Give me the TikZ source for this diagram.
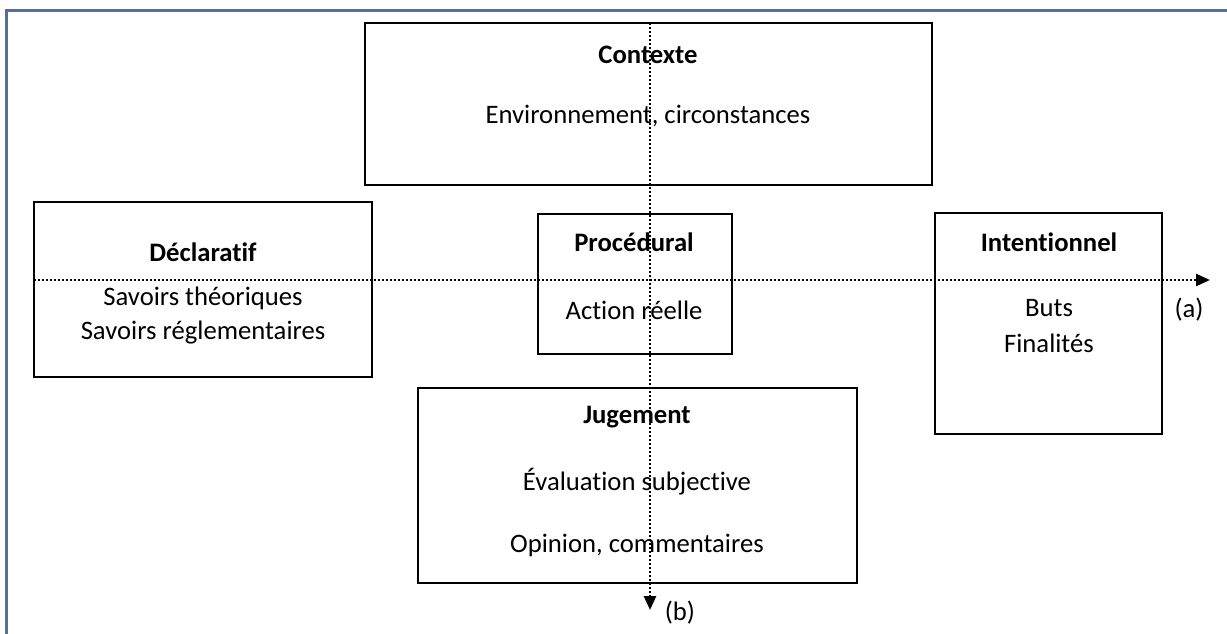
\documentclass[tikz,border=0pt]{standalone}
\usepackage{fontspec}
\setmainfont{Carlito}[Ligatures={NoCommon}]
\usetikzlibrary{arrows.meta}
\begin{document}
\begin{tikzpicture}[x=0.75pt,y=-0.75pt,
  box/.style={draw=black,line width=1.4pt,fill=white,rectangle,inner sep=0pt},
  lbl/.style={font=\fontsize{20}{24}\selectfont,inner sep=0pt,anchor=center},
  ttl/.style={lbl,font=\fontsize{20}{24}\selectfont\bfseries},
  axis/.style={line width=1.9pt,dash pattern=on 1.5pt off 1.5pt,-{Triangle[length=10.5pt,width=9pt]}},
  frame/.style={draw={rgb,255:red,79;green,111;blue,165},line width=2.4pt}]
\useasboundingbox (0,0) rectangle (1227,634);
\draw[frame] (6.5,640) -- (6.5,10.5) -- (1235,10.5);
% boxes
\node[box,minimum width=567*0.75pt,minimum height=162*0.75pt] (ctx) at (648.5,104) {};
\node[box,minimum width=338*0.75pt,minimum height=175*0.75pt] (decl) at (203,289.5) {};
\node[box,minimum width=194*0.75pt,minimum height=140*0.75pt] (proc) at (635,284) {};
\node[box,minimum width=227*0.75pt,minimum height=221*0.75pt] (int) at (1048.5,323.5) {};
\node[box,minimum width=439*0.75pt,minimum height=195*0.75pt] (jug) at (637.5,485.5) {};
% texts
\node[ttl] (t1) at (648,55) {Contexte};
\node[lbl] (t2) at (648,116) {Environnement, circonstances};
\node[ttl] (t3) at (203,252) {Déclaratif};
\node[lbl] (t4) at (203,298) {Savoirs théoriques};
\node[lbl] (t5) at (203,333) {Savoirs réglementaires};
\node[ttl] (t6) at (634,242) {Procédural};
\node[lbl] (t7) at (634,310) {Action réelle};
\node[ttl] (t8) at (1049,242) {Intentionnel};
\node[lbl] (t9) at (1049,308) {Buts};
\node[lbl] (t10) at (1049,343) {Finalités};
\node[ttl] (t11) at (637,417) {Jugement};
\node[lbl] (t12) at (637,482) {Évaluation subjective};
\node[lbl] (t13) at (637,545) {Opinion, commentaires};
\node[lbl] (la) at (1189,310) {(a)};
\node[lbl] (lb) at (680,613) {(b)};
% axes
\coordinate (hs) at (34,280);
\coordinate (he) at (1210,280);
\coordinate (vs) at (650,23);
\coordinate (ve) at (650,610);
\draw[axis] (hs) -- (he);
\draw[axis] (vs) -- (ve);
\end{tikzpicture}
\end{document}
